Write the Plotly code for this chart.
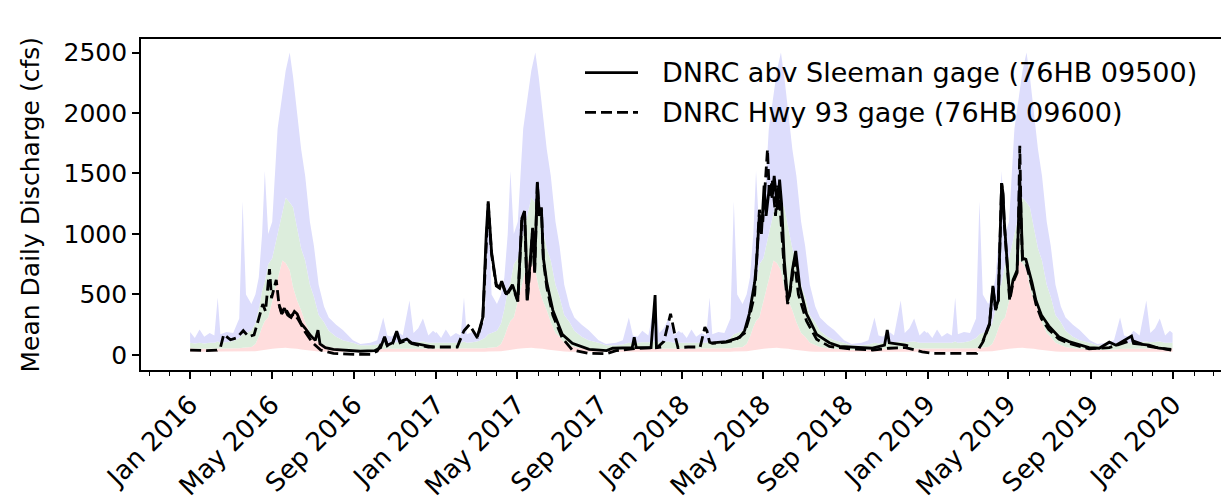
import plotly.graph_objects as go

# ---------------- data ----------------
# daily-flow climatology (per day of year), repeated for each plotted year
clim_md = ["01-01", "01-08", "01-15", "01-22", "01-30", "02-06", "02-11", "02-15", "02-24",
           "03-05", "03-14", "03-19", "03-24", "04-01", "04-07", "04-12", "04-17", "04-21",
           "04-26", "05-02", "05-10", "05-17", "05-22", "05-28", "06-02", "06-08", "06-14",
           "06-20", "06-27", "07-03", "07-10", "07-18", "07-25", "08-05", "08-15", "08-30",
           "09-10", "09-25", "10-05", "10-14", "10-20", "10-27", "11-03", "11-12", "11-22",
           "11-28", "12-05", "12-12", "12-20", "12-27", "12-31"]
clim_max = [190, 140, 210, 150, 180, 160, 475, 170, 190,
            180, 300, 1270, 500, 420, 500, 640, 1000, 1520,
            1000, 1100, 1870, 2150, 2350, 2500, 2300, 2000, 1700,
            1480, 1100, 900, 580, 400, 310, 250, 205, 120,
            90, 100, 120, 310, 160, 150, 200, 160, 450,
            180, 220, 300, 160, 200, 180]
clim_p75 = [100, 95, 100, 95, 100, 100, 110, 100, 105,
            115, 140, 170, 180, 200, 260, 380, 530, 600,
            750, 800, 1000, 1160, 1300, 1260, 1220, 1050, 880,
            780, 580, 480, 330, 270, 200, 150, 120, 100,
            80, 80, 85, 100, 95, 100, 105, 105, 110,
            105, 105, 110, 100, 100, 100]
clim_p25 = [55, 50, 50, 50, 50, 50, 55, 50, 50,
            55, 55, 60, 62, 65, 90, 150, 230, 280,
            310, 450, 640, 780, 760, 700, 560, 450, 370,
            270, 180, 150, 100, 80, 65, 55, 50, 45,
            40, 40, 45, 50, 50, 50, 50, 50, 55,
            55, 55, 55, 55, 55, 55]
clim_min = [25, 25, 25, 25, 25, 25, 25, 25, 25,
            25, 25, 28, 28, 30, 30, 35, 40, 40,
            45, 50, 55, 60, 60, 55, 50, 50, 45,
            40, 35, 30, 28, 25, 25, 20, 20, 20,
            20, 20, 20, 20, 20, 22, 22, 22, 22,
            22, 22, 22, 22, 25, 25]
clim_years = [2016, 2017, 2018, 2019]

# DNRC abv Sleeman gage (76HB 09500)
sleeman_dates = [
    "2016-05-12", "2016-05-16", "2016-05-20", "2016-05-25", "2016-05-30", "2016-06-04", "2016-06-08",
    "2016-06-14", "2016-06-20", "2016-06-28", "2016-07-05", "2016-07-09", "2016-07-12", "2016-07-20",
    "2016-08-01", "2016-08-20", "2016-09-10", "2016-10-01", "2016-10-10", "2016-10-16", "2016-10-20",
    "2016-10-28", "2016-11-03", "2016-11-08", "2016-11-18", "2016-11-25", "2016-12-05", "2016-12-20",
    "2016-12-28", "2017-01-15",
    "2017-03-03", "2017-03-11", "2017-03-16", "2017-03-19", "2017-03-24", "2017-03-31", "2017-04-05",
    "2017-04-08", "2017-04-15", "2017-04-24", "2017-05-02", "2017-05-05", "2017-05-08", "2017-05-12",
    "2017-05-14", "2017-05-16", "2017-05-21", "2017-05-24", "2017-05-27", "2017-05-31", "2017-06-03",
    "2017-06-06", "2017-06-09", "2017-06-14", "2017-06-23", "2017-07-07", "2017-07-22", "2017-08-16",
    "2017-09-11", "2017-09-20", "2017-10-19", "2017-10-22", "2017-10-25", "2017-11-16", "2017-11-22",
    "2017-11-24", "2017-12-01", "2018-01-10",
    "2018-02-15", "2018-03-08", "2018-03-20", "2018-03-28", "2018-04-04", "2018-04-11", "2018-04-19",
    "2018-04-22", "2018-04-26", "2018-04-29", "2018-05-03", "2018-05-06", "2018-05-11", "2018-05-15",
    "2018-05-18", "2018-05-23", "2018-05-26", "2018-05-29", "2018-06-02", "2018-06-07", "2018-06-10",
    "2018-06-14", "2018-06-19", "2018-06-25", "2018-07-05", "2018-07-20", "2018-08-08", "2018-08-23",
    "2018-10-11", "2018-10-29", "2018-11-02", "2018-11-05", "2018-11-29", "2018-12-03", "2019-01-10",
    "2019-03-24", "2019-04-03", "2019-04-08", "2019-04-12", "2019-04-16", "2019-04-21", "2019-04-23",
    "2019-04-25", "2019-04-30", "2019-05-03", "2019-05-08", "2019-05-14", "2019-05-16", "2019-05-18",
    "2019-05-20", "2019-05-22", "2019-05-27", "2019-06-01", "2019-06-05", "2019-06-11", "2019-06-19",
    "2019-06-30", "2019-07-15", "2019-07-30", "2019-08-14", "2019-08-29", "2019-09-13", "2019-09-28",
    "2019-10-08", "2019-10-31", "2019-11-03", "2019-11-26", "2019-12-11", "2019-12-29"]
sleeman_cfs = [
    420, 350, 385, 330, 310, 360, 340,
    260, 220, 160, 120, 205, 90, 60,
    45, 35, 30, 35, 60, 150, 80,
    100, 195, 110, 130, 100, 90, 70,
    65, None,
    150, 310, 990, 1270, 850, 580, 560,
    610, 500, 580, 450, 800, 1130, 1190,
    900, 450, 800, 1050, 690, 1430, 1150,
    1220, 800, 600, 370, 170, 95, 45,
    35, 55, 60, 145, 60, 60, 495,
    60, 65, None,
    100, 110, 130, 145, 200, 340, 600,
    780, 1160, 1000, 1400, 1150, 1400, 1300,
    1480, 1200, 1450, 1250, 780, 450, 500,
    700, 860, 560, 340, 170, 100, 70,
    55, 80, 205, 100, 80, 75, None,
    110, 260, 570, 380, 450, 1420, 1340,
    1100, 700, 470, 620, 700, 1100, 1450,
    1150, 800, 790, 690, 600, 450, 330,
    240, 150, 110, 85, 60, 55, 105,
    80, 155, 95, 80, 55, 45]

# DNRC Hwy 93 gage (76HB 09600)
hwy93_dates = [
    "2016-01-01", "2016-01-25", "2016-02-10", "2016-02-15", "2016-02-20", "2016-03-01", "2016-03-10",
    "2016-03-20", "2016-03-28", "2016-04-05", "2016-04-12", "2016-04-18", "2016-04-22", "2016-04-26",
    "2016-04-28", "2016-05-01", "2016-05-05", "2016-05-08", "2016-05-12", "2016-05-16", "2016-05-22",
    "2016-05-28", "2016-06-04", "2016-06-10", "2016-06-20", "2016-07-01", "2016-07-13", "2016-08-01",
    "2016-09-01", "2016-09-25", "2016-10-05", "2016-10-16", "2016-10-20", "2016-10-28", "2016-11-03",
    "2016-11-08", "2016-11-18", "2016-11-25", "2016-12-05", "2016-12-20",
    "2017-01-10", "2017-02-01", "2017-02-05", "2017-02-11", "2017-02-19", "2017-02-26", "2017-03-03",
    "2017-03-11", "2017-03-16", "2017-03-19", "2017-03-24", "2017-03-31", "2017-04-05", "2017-04-08",
    "2017-04-15", "2017-04-24", "2017-05-02", "2017-05-05", "2017-05-08", "2017-05-12", "2017-05-14",
    "2017-05-16", "2017-05-21", "2017-05-24", "2017-05-27", "2017-05-31", "2017-06-03", "2017-06-06",
    "2017-06-09", "2017-06-14", "2017-06-23", "2017-07-07", "2017-07-22", "2017-08-16", "2017-09-11",
    "2017-09-25", "2017-10-19", "2017-11-16", "2017-11-25", "2017-12-05", "2017-12-15", "2017-12-22",
    "2017-12-26",
    "2018-01-10", "2018-01-28", "2018-02-04", "2018-02-07", "2018-02-11", "2018-02-15", "2018-03-08",
    "2018-03-20", "2018-04-04", "2018-04-11", "2018-04-19", "2018-04-23", "2018-04-26", "2018-05-01",
    "2018-05-05", "2018-05-08", "2018-05-11", "2018-05-15", "2018-05-20", "2018-05-23", "2018-05-27",
    "2018-06-02", "2018-06-07", "2018-06-13", "2018-06-17", "2018-06-23", "2018-07-05", "2018-07-20",
    "2018-08-08", "2018-09-07", "2018-10-11", "2018-11-05", "2018-11-29", "2018-12-24",
    "2019-01-10", "2019-03-15", "2019-03-19", "2019-03-24", "2019-04-03", "2019-04-08", "2019-04-12",
    "2019-04-16", "2019-04-21", "2019-04-23", "2019-04-25", "2019-04-30", "2019-05-03", "2019-05-08",
    "2019-05-14", "2019-05-16", "2019-05-18", "2019-05-20", "2019-05-22", "2019-05-27", "2019-06-01",
    "2019-06-05", "2019-06-11", "2019-06-19", "2019-06-30", "2019-07-15", "2019-07-30", "2019-08-14",
    "2019-08-29", "2019-09-28", "2019-10-31", "2019-11-26", "2019-12-29"]
hwy93_cfs = [
    40, 35, 40, 60, 170, 125, 140,
    200, 150, 165, 300, 420, 360, 560,
    710, 470, 560, 620, 420, 340, 380,
    320, 340, 290, 190, 100, 40, 12,
    5, 5, 30, 140, 75, 95, 185,
    100, 120, 95, 80, 65,
    65, 65, 120, 200, 250, 190, 140,
    300, 980, 1250, 830, 570, 550,
    600, 490, 570, 440, 790, 1120, 1180,
    880, 440, 790, 1040, 680, 1420, 1130,
    1210, 780, 560, 330, 140, 40, 12, 10,
    35, 50, 55, 60, 110, 340, 150,
    60,
    65, 65, 230, 200, 105, 95, 105,
    120, 180, 310, 500, 900, 1200, 1100,
    1500, 1700, 1300, 1450, 1150, 1400, 1200,
    700, 420, 600, 780, 500, 280, 130,
    70, 50, 40, 55, 60, 25,
    12, 12, 60, 105, 250, 560, 370,
    440, 1420, 1320, 1080, 680, 450, 600,
    680, 1100, 1730, 1100, 780, 760, 660,
    570, 420, 300, 210, 130, 95, 70,
    50, 60, 120, 70, 40]

y_ticks = [0, 500, 1000, 1500, 2000, 2500]

# ---------------- figure ----------------
band_x = [f"{yr}-{md}" for yr in clim_years for md in clim_md]
band_min = clim_min * len(clim_years)
band_p25 = clim_p25 * len(clim_years)
band_p75 = clim_p75 * len(clim_years)
band_max = clim_max * len(clim_years)

FONT = "DejaVu Sans"
FS_TICK = 25
FS_XTICK = 26
FS_TITLE = 25
FS_LEG = 27
LW = 2.8

fig = go.Figure()
fig.add_trace(go.Scatter(x=band_x, y=band_min, mode="lines", line=dict(width=0),
                         showlegend=False, hoverinfo="skip"))
fig.add_trace(go.Scatter(x=band_x, y=band_p25, mode="lines", line=dict(width=0),
                         fill="tonexty", fillcolor="rgb(255,221,221)", showlegend=False, hoverinfo="skip"))
fig.add_trace(go.Scatter(x=band_x, y=band_p75, mode="lines", line=dict(width=0),
                         fill="tonexty", fillcolor="rgb(220,237,220)", showlegend=False, hoverinfo="skip"))
fig.add_trace(go.Scatter(x=band_x, y=band_max, mode="lines", line=dict(width=0),
                         fill="tonexty", fillcolor="rgb(221,221,252)", showlegend=False, hoverinfo="skip"))

fig.add_trace(go.Scatter(x=sleeman_dates, y=sleeman_cfs, mode="lines", connectgaps=False,
                         line=dict(color="black", width=LW), showlegend=False,
                         name="DNRC abv Sleeman gage (76HB 09500)"))
fig.add_trace(go.Scatter(x=hwy93_dates, y=hwy93_cfs, mode="lines",
                         line=dict(color="black", width=LW, dash="11px,5px"), showlegend=False,
                         name="DNRC Hwy 93 gage (76HB 09600)"))

# manual legend (no frame), placed in plot-area paper coordinates
L, R, T, B = 141, 1221, 39, 373
def px(xp):
    return (xp - L) / (R - L)
def py(yp):
    return (B - yp) / (B - T)

legend_rows = [("DNRC abv Sleeman gage (76HB 09500)", "solid", 73),
               ("DNRC Hwy 93 gage (76HB 09600)", "11px,5px", 113)]
for label, dash, yrow in legend_rows:
    fig.add_shape(type="line", xref="paper", yref="paper", x0=px(585), x1=px(638),
                  y0=py(yrow), y1=py(yrow), line=dict(color="black", width=LW, dash=dash))
    fig.add_annotation(xref="paper", yref="paper", x=px(660), y=py(yrow), text=label,
                       showarrow=False, xanchor="left", yanchor="middle",
                       font=dict(family=FONT, size=FS_LEG, color="black"))

fig.add_annotation(xref="paper", yref="paper", x=px(30), y=0.5, text="Mean Daily Discharge (cfs)",
                   textangle=-90, showarrow=False, xanchor="center", yanchor="middle",
                   font=dict(family=FONT, size=FS_TITLE, color="black"))

fig.update_layout(
    width=1221, height=501,
    margin=dict(l=L, r=0, t=T, b=501 - B, pad=0),
    paper_bgcolor="white", plot_bgcolor="white",
    font=dict(family=FONT, size=FS_TICK, color="black"),
    showlegend=False,
)
fig.update_xaxes(
    type="date", range=["2015-10-20", "2020-03-12"],
    showline=True, linecolor="black", linewidth=1.7, mirror=True,
    ticks="outside", ticklen=7, tickwidth=1.6, tickcolor="black",
    tick0="2016-01-01", dtick="M4", tickformat="%b %Y", tickangle=-45,
    tickfont=dict(family=FONT, size=FS_XTICK, color="black"),
    showgrid=False, zeroline=False,
    minor=dict(ticks="outside", ticklen=4, tickwidth=1.3, tickcolor="black",
               tick0="2016-01-01", dtick="M1", showgrid=False),
)
fig.update_yaxes(
    range=[-125, 2612], tickvals=y_ticks,
    showline=True, linecolor="black", linewidth=1.7, mirror=False,
    ticks="outside", ticklen=7, tickwidth=1.6, tickcolor="black",
    tickfont=dict(family=FONT, size=FS_TICK, color="black"),
    showgrid=False, zeroline=False,
)

fig.write_html("out.html")
